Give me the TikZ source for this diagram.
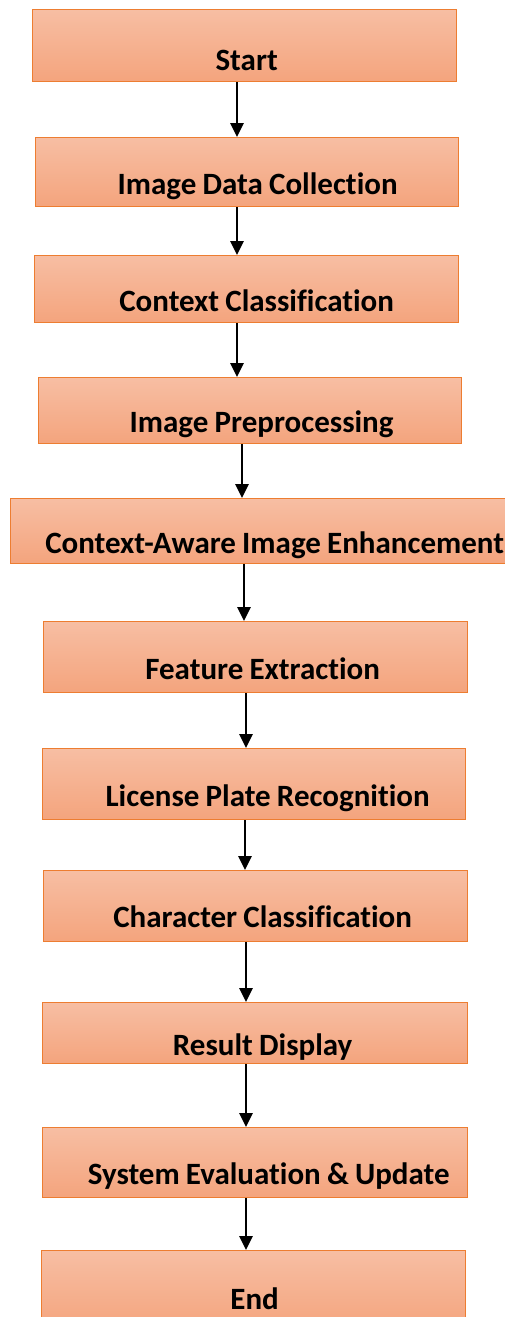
\documentclass[tikz,border=0pt]{standalone}
\usepackage{fontspec}
\setmainfont[Ligatures=NoCommon]{Carlito}
\usetikzlibrary{arrows.meta}
\definecolor{boxtop}{HTML}{F7BEA3}
\definecolor{boxbot}{HTML}{F4A47D}
\definecolor{boxedge}{HTML}{ED7D31}
\tikzset{
  flowbox/.style={draw=boxedge, line width=1.3pt, top color=boxtop, bottom color=boxbot,
    inner xsep=0pt, inner ysep=0pt, anchor=north west, align=center,
    font=\bfseries\fontsize{31}{34}\selectfont},
  flowarrow/.style={line width=2.8pt, -{Triangle[length=14pt,width=13pt]}}
}
% \flowbox{name}{left}{top}{right}{bottom}{baseline}{text centre x}{text}
\newcommand{\flowbox}[8]{%
  \pgfmathsetmacro{\bw}{#4-#2}%
  \pgfmathsetmacro{\th}{#6-#3}%
  \pgfmathsetmacro{\td}{#5-#6}%
  \pgfmathsetmacro{\sh}{2*(#7-(#2+#4)/2)}%
  \node[flowbox, text width=\bw pt, text height=\th pt, text depth=\td pt] (#1) at (#2,#3)
    {\spaceskip=0.2em\relax\hspace*{\sh pt}#8};%
}
\begin{document}
\begin{tikzpicture}[x=1pt,y=-1pt]
\useasboundingbox (0,0) rectangle (505,1317);
\flowbox{start}{32}{9}{456}{81}{70}{246}{Start}
\flowbox{collect}{35}{137}{458}{206}{194}{257}{Image Data Collection}
\flowbox{context}{34}{255}{458}{322}{311}{256}{Context Classification}
\flowbox{prep}{38}{377}{461}{443}{432}{261}{Image Preprocessing}
\flowbox{enhance}{10}{498}{506}{563}{553}{274}{Context-Aware Image Enhancement}
\flowbox{feature}{43}{621}{467}{692}{679}{262}{Feature Extraction}
\flowbox{plate}{42}{748}{465}{819}{806}{267}{License Plate Recognition}
\flowbox{chars}{43}{870}{467}{941}{927}{262}{Character Classification}
\flowbox{result}{42}{1002}{467}{1063}{1055}{262}{Result Display}
\flowbox{eval}{42}{1127}{467}{1197}{1184}{268}{System Evaluation \& Update}
\flowbox{finish}{41}{1250}{465}{1330}{1309}{254}{End}

\draw[flowarrow] (237,0 |- start.south)   -- (237,0 |- collect.north);
\draw[flowarrow] (237,0 |- collect.south) -- (237,0 |- context.north);
\draw[flowarrow] (237,0 |- context.south) -- (237,0 |- prep.north);
\draw[flowarrow] (242,0 |- prep.south)    -- (242,0 |- enhance.north);
\draw[flowarrow] (244,0 |- enhance.south) -- (244,0 |- feature.north);
\draw[flowarrow] (246,0 |- feature.south) -- (246,0 |- plate.north);
\draw[flowarrow] (245,0 |- plate.south)   -- (245,0 |- chars.north);
\draw[flowarrow] (246,0 |- chars.south)   -- (246,0 |- result.north);
\draw[flowarrow] (246,0 |- result.south)  -- (246,0 |- eval.north);
\draw[flowarrow] (246,0 |- eval.south)    -- (246,0 |- finish.north);
\end{tikzpicture}
\end{document}
